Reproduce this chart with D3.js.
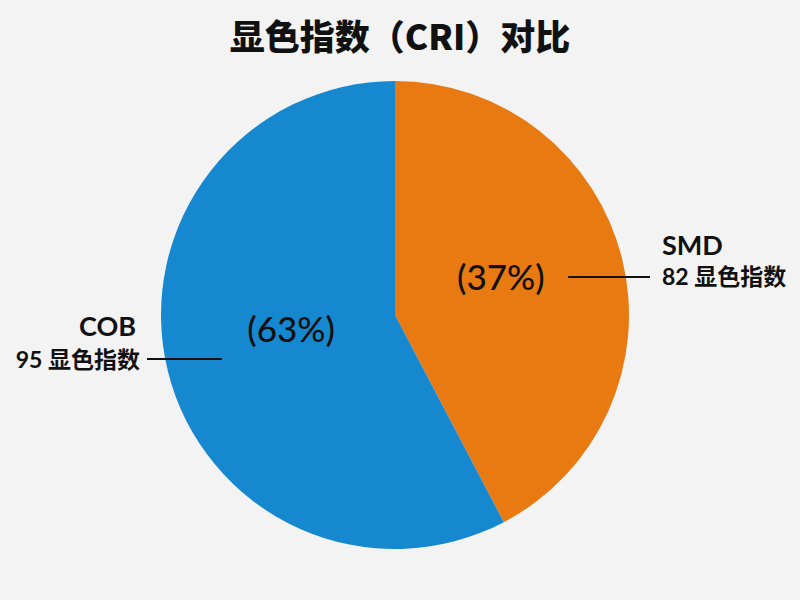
<!DOCTYPE html>
<html>
<head>
<meta charset="utf-8">
<script src="https://cdn.jsdelivr.net/npm/d3@7"></script>
<style>
  html, body { margin: 0; padding: 0; background: #f3f3f3; }
  svg { display: block; }
</style>
</head>
<body>
<div id="chart"></div>
<script>
// Data
const categories = ['SMD', 'COB'];
const criValues = [82, 95];
const pctLabels = ['(37%)', '(63%)'];
// slice sizes as they are drawn (SMD wedge spans ~152 degrees)
const sliceShares = [42.3, 57.7];
const colors = ['#e97a12', '#1588d0'];

const width = 800, height = 600;
const cx = 395, cy = 315, r = 234;
const latin = 'Lato, "Noto Sans CJK SC", sans-serif';

const svg = d3.select('#chart')
    .append('svg')
    .attr('width', width)
    .attr('height', height)
    .attr('viewBox', [0, 0, width, height]);

svg.append('rect')
    .attr('width', width)
    .attr('height', height)
    .attr('fill', '#f3f3f3');

// Title
svg.append('text')
    .attr('x', 400)
    .attr('y', 50)
    .attr('text-anchor', 'middle')
    .attr('font-family', '"Noto Sans CJK SC", "Noto Sans", sans-serif')
    .attr('font-weight', 900)
    .attr('font-size', '35px')
    .attr('fill', '#111')
    .text('显色指数（CRI）对比');

const slices = categories.map((c, i) => ({
    name: c, cri: criValues[i], pct: pctLabels[i], share: sliceShares[i], color: colors[i]
}));

const pie = d3.pie().sort(null).value(d => d.share);
const arcs = pie(slices);

const arc = d3.arc().innerRadius(0).outerRadius(r);
const labelArc = d3.arc().innerRadius(0).outerRadius(r * 0.95);

const g = svg.append('g').attr('transform', `translate(${cx},${cy})`);

g.selectAll('path')
    .data(arcs)
    .join('path')
    .attr('d', arc)
    .attr('fill', d => d.data.color);

// percentage labels (nudged toward the reference placement)
const nudge = [[-2, -12], [4, -14]];
g.selectAll('text.pct')
    .data(arcs)
    .join('text')
    .attr('class', 'pct')
    .attr('x', (d, i) => labelArc.centroid(d)[0] + nudge[i][0])
    .attr('y', (d, i) => labelArc.centroid(d)[1] + nudge[i][1])
    .attr('text-anchor', 'middle')
    .attr('dominant-baseline', 'central')
    .attr('font-family', latin)
    .attr('font-weight', 500)
    .attr('font-size', '35px')
    .attr('fill', '#111')
    .text(d => d.data.pct);

// leader lines and outside labels
arcs.forEach((d, i) => {
    const right = (d.startAngle + d.endAngle) / 2 < Math.PI;
    const side = right ? 1 : -1;
    const ly = right ? -38 : 44;
    const x0 = side * r * 0.74;
    const x1 = side * (r + (right ? 21 : 14));
    g.append('line')
        .attr('x1', x0).attr('y1', ly)
        .attr('x2', x1).attr('y2', ly)
        .attr('stroke', '#111')
        .attr('stroke-width', 2);

    const tx = right ? x1 + 12 : x1 - 7;
    const anchor = right ? 'start' : 'end';
    const nameY = right ? ly - 22 : ly - 23;
    const valY = right ? ly + 8 : ly + 9;

    g.append('text')
        .attr('x', right ? tx : tx - 4)
        .attr('y', nameY)
        .attr('text-anchor', anchor)
        .attr('font-family', latin)
        .attr('font-weight', 700)
        .attr('font-size', '27px')
        .attr('fill', '#111')
        .text(d.data.name);

    g.append('text')
        .attr('x', tx)
        .attr('y', valY)
        .attr('text-anchor', anchor)
        .attr('font-family', latin)
        .attr('font-weight', 700)
        .attr('font-size', '23px')
        .attr('fill', '#111')
        .text(d.data.cri + ' 显色指数');
});
</script>
</body>
</html>
